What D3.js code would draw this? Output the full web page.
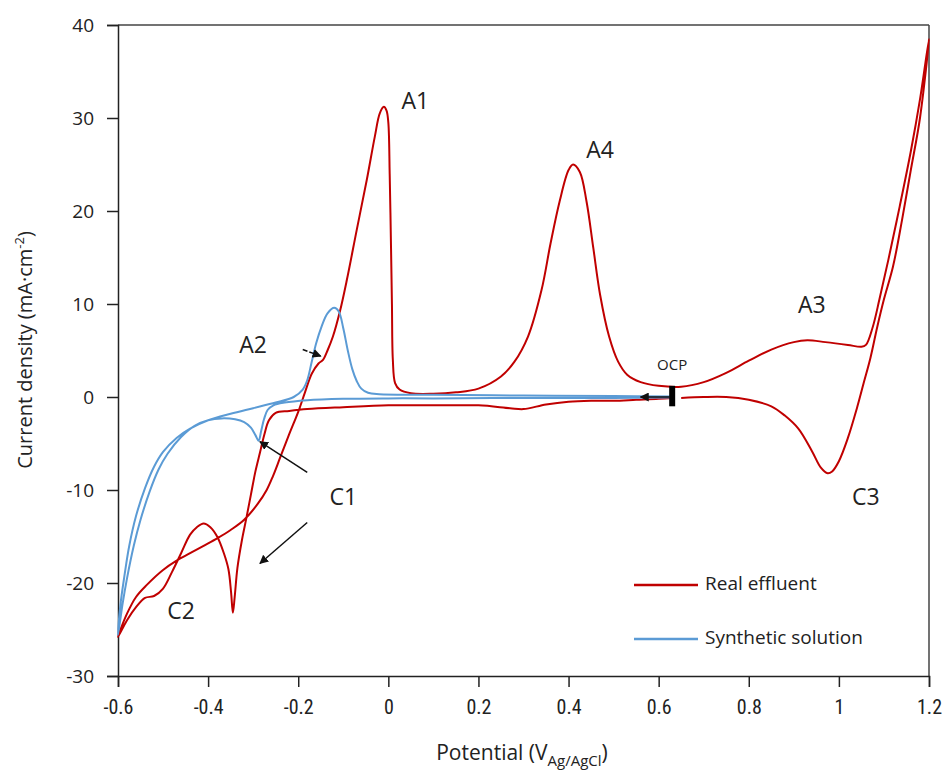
<!DOCTYPE html>
<html>
<head>
<meta charset="utf-8">
<script src="https://cdn.jsdelivr.net/npm/d3@7"></script>
<style>
  body { margin: 0; background: #fff; }
  text { font-family: "Open Sans", "Liberation Sans", sans-serif; fill: #222; }
</style>
</head>
<body>
<svg id="chart" width="950" height="781"></svg>
<script>
// potential (V) / current density (mA cm-2), in scan order starting at OCP
var realEffluent = [
  [0.63,-0.1],[0.6,-0.2],[0.55,-0.3],[0.5,-0.4],[0.45,-0.4],[0.4,-0.5],[0.35,-0.8],[0.3,-1.3],[0.27,-1.2],
  [0.2,-0.9],[0.1,-0.9],[0.0,-0.9],[-0.1,-1.1],[-0.18,-1.3],[-0.22,-1.5],[-0.25,-1.7],[-0.265,-2.5],
  [-0.275,-4],[-0.285,-6],[-0.295,-8],[-0.305,-10.5],[-0.315,-13],[-0.325,-15.4],[-0.335,-18.4],
  [-0.341,-21.5],[-0.345,-23.2],[-0.349,-21],[-0.355,-18.5],[-0.365,-16.8],[-0.38,-15],[-0.395,-14],
  [-0.41,-13.6],[-0.425,-14],[-0.44,-14.8],[-0.46,-16.8],[-0.48,-18.8],[-0.5,-20.6],[-0.52,-21.4],
  [-0.54,-21.6],[-0.56,-22.6],[-0.58,-24],[-0.6,-25.8],
  [-0.58,-23.3],[-0.56,-21.5],[-0.536,-20.2],[-0.5,-18.6],[-0.47,-17.6],[-0.44,-16.8],[-0.41,-16],
  [-0.38,-15.2],[-0.35,-14.3],[-0.32,-13.2],[-0.29,-11.5],[-0.27,-10],[-0.256,-8.5],[-0.24,-6.5],
  [-0.22,-4],[-0.2,-1.6],[-0.185,0.5],[-0.17,2.5],[-0.155,3.6],[-0.145,4],[-0.135,5],[-0.123,6.5],
  [-0.107,9.3],[-0.092,12.6],[-0.07,18],[-0.048,23.3],[-0.03,28],[-0.019,30.5],[-0.01,31.2],
  [-0.004,30.8],[0.0,29.5],[0.003,24],[0.006,16],[0.008,10],[0.01,4],[0.015,1.5],[0.025,0.8],
  [0.05,0.4],[0.1,0.35],[0.15,0.5],[0.2,0.9],[0.25,2.2],[0.28,3.8],[0.31,6.5],[0.34,11.5],
  [0.36,16.5],[0.38,21],[0.4,24.4],[0.41,25],[0.425,24.2],[0.44,21],[0.455,16],[0.47,11],
  [0.49,6.5],[0.51,3.8],[0.53,2.4],[0.56,1.6],[0.6,1.2],[0.65,1.1],[0.7,1.6],[0.75,2.6],
  [0.8,3.9],[0.85,5.1],[0.9,5.9],[0.93,6.1],[0.97,5.9],[1.02,5.6],[1.05,5.4],[1.06,5.6],
  [1.075,7.5],[1.09,10.5],[1.11,14.8],[1.135,20.5],[1.16,26.5],[1.18,32],[1.2,38.5],
  [1.18,30],[1.16,24.5],[1.14,19],[1.12,14],[1.1,10.5],[1.085,7.5],[1.07,4.2],[1.055,1.5],
  [1.04,-1.2],[1.02,-4.4],[1.0,-6.9],[0.985,-8.0],[0.975,-8.2],[0.96,-7.6],[0.94,-5.8],
  [0.91,-3.4],[0.88,-2.0],[0.85,-1.0],[0.8,-0.3],[0.75,0.0],[0.7,0.0],[0.65,-0.1]
];

var syntheticSolution = [
  [0.63,-0.05],[0.5,-0.1],[0.3,-0.1],[0.1,-0.15],[0.0,-0.15],[-0.1,-0.2],[-0.18,-0.35],[-0.23,-0.6],
  [-0.255,-0.9],[-0.268,-1.4],[-0.276,-2.4],[-0.282,-3.6],[-0.288,-4.7],[-0.295,-4.1],[-0.305,-3.3],
  [-0.32,-2.7],[-0.34,-2.4],[-0.37,-2.3],[-0.4,-2.5],[-0.43,-3.1],[-0.46,-4.3],[-0.49,-6.1],
  [-0.51,-7.8],[-0.53,-10.2],[-0.55,-13.2],[-0.565,-16],[-0.58,-19.5],[-0.59,-22.3],[-0.6,-25.6],
  [-0.595,-22.5],[-0.585,-19],[-0.575,-16],[-0.56,-12.8],[-0.54,-9.8],[-0.52,-7.5],[-0.5,-5.9],
  [-0.47,-4.4],[-0.44,-3.4],[-0.4,-2.5],[-0.35,-1.8],[-0.3,-1.2],[-0.25,-0.6],[-0.21,0],
  [-0.19,0.8],[-0.18,1.8],[-0.17,3.8],[-0.16,5.8],[-0.148,7.6],[-0.135,9],[-0.12,9.6],
  [-0.11,9.2],[-0.1,7.4],[-0.09,5],[-0.08,3],[-0.07,1.7],[-0.06,0.9],[-0.045,0.45],[-0.02,0.3],
  [0.1,0.25],[0.3,0.15],[0.5,0.1],[0.63,0.05]
];

var xTicks = [-0.6,-0.4,-0.2,0,0.2,0.4,0.6,0.8,1,1.2];
var yTicks = [-30,-20,-10,0,10,20,30,40];
var seriesNames = ["Real effluent","Synthetic solution"];
var seriesColors = ["#c00000","#5b9bd5"];

// peak labels: [text, potential, current]
var peakLabels = [
  ["A1",0.06,31.6],["A4",0.47,26.4],["A3",0.94,9.7],["A2",-0.3,5.4],
  ["C1",-0.1,-11.0],["C2",-0.46,-23.2],["C3",1.06,-11.0]
];
var ocp = 0.63;

var svg = d3.select("#chart");
var x = d3.scaleLinear().domain([-0.6,1.2]).range([118,929]);
var y = d3.scaleLinear().domain([-30,40]).range([676,25]);

// frame top/right
svg.append("line").attr("x1",118).attr("x2",929).attr("y1",25).attr("y2",25)
  .attr("stroke","#444").attr("stroke-width",1.5);
svg.append("line").attr("x1",929).attr("x2",929).attr("y1",25).attr("y2",676)
  .attr("stroke","#444").attr("stroke-width",1.5);

function plain(d){ return String(+(+d).toFixed(1)); }   // hyphen minus, like the original

var xAxis = svg.append("g").attr("transform","translate(0,676)")
  .call(d3.axisBottom(x).tickValues(xTicks).tickSize(11).tickFormat(plain));
var yAxis = svg.append("g").attr("transform","translate(118,0)")
  .call(d3.axisLeft(y).tickValues(yTicks).tickSize(11).tickFormat(plain));
[xAxis,yAxis].forEach(function(g){
  g.select(".domain").attr("stroke","#222").attr("stroke-width",1.5);
  g.selectAll(".tick line").attr("stroke","#222").attr("stroke-width",1.5);
  g.selectAll(".tick text").attr("font-size",19).attr("fill","#222")
    .style("font-family","'Open Sans', sans-serif");
});
xAxis.selectAll(".tick text").attr("dy","1.2em").style("font-family","'Liberation Sans Narrow','Roboto Condensed','Liberation Sans',sans-serif").attr("font-size",20);
yAxis.selectAll(".tick text").attr("x",-24);

var line = d3.line().x(function(d){ return x(d[0]); }).y(function(d){ return y(d[1]); })
  .curve(d3.curveCatmullRom.alpha(0.5));

svg.append("path").datum(realEffluent).attr("d",line)
  .attr("fill","none").attr("stroke",seriesColors[0]).attr("stroke-width",2);
svg.append("path").datum(syntheticSolution).attr("d",line)
  .attr("fill","none").attr("stroke",seriesColors[1]).attr("stroke-width",2);

// arrow markers
var defs = svg.append("defs");
defs.append("marker").attr("id","ah").attr("viewBox","0 0 10 10").attr("refX",9).attr("refY",5)
  .attr("markerWidth",6).attr("markerHeight",6).attr("orient","auto")
  .append("path").attr("d","M0,0L10,5L0,10z").attr("fill","#111");

function arrow(x1,y1,x2,y2,dash){
  svg.append("line").attr("x1",x(x1)).attr("y1",y(y1)).attr("x2",x(x2)).attr("y2",y(y2))
    .attr("stroke","#111").attr("stroke-width",1.5).attr("stroke-dasharray",dash||null)
    .attr("marker-end","url(#ah)");
}
arrow(-0.19,5.1,-0.15,4.4,"5,2");     // A2
arrow(-0.18,-8.1,-0.285,-4.8);        // C1 -> blue dip
arrow(-0.18,-13.5,-0.285,-17.9);      // C1 -> red

// OCP marker
svg.append("line").attr("x1",x(ocp)).attr("x2",x(ocp)).attr("y1",y(1.2)).attr("y2",y(-1.0))
  .attr("stroke","#000").attr("stroke-width",6);
arrow(ocp-0.005,0,ocp-0.07,0);
svg.append("text").attr("x",x(ocp)).attr("y",y(2.9)).attr("text-anchor","middle")
  .attr("font-size",15).text("OCP");

svg.selectAll("text.peak").data(peakLabels).enter().append("text").attr("class","peak")
  .attr("x",function(d){ return x(d[1]); }).attr("y",function(d){ return y(d[2]); })
  .attr("text-anchor","middle").attr("dominant-baseline","middle").attr("font-size",23)
  .text(function(d){ return d[0]; });

// legend
var leg = svg.append("g");
seriesNames.forEach(function(n,i){
  var ly = 585 + i*54;
  leg.append("line").attr("x1",634).attr("x2",698).attr("y1",ly).attr("y2",ly)
    .attr("stroke",seriesColors[i]).attr("stroke-width",2.5);
  leg.append("text").attr("x",705).attr("y",ly).attr("dominant-baseline","middle")
    .attr("font-size",19).text(n);
});

// axis titles
var xt = svg.append("text").attr("x",522).attr("y",760).attr("text-anchor","middle").attr("font-size",21);
xt.append("tspan").text("Potential (V");
xt.append("tspan").attr("font-size",15).attr("dy",6).text("Ag/AgCl");
xt.append("tspan").attr("dy",-6).text(")");

var yt = svg.append("text").attr("transform","translate(32,350) rotate(-90)")
  .attr("text-anchor","middle").attr("font-size",20);
yt.append("tspan").text("Current density (mA·cm");
yt.append("tspan").attr("font-size",13).attr("dy",-8).text("-2");
yt.append("tspan").attr("dy",8).text(")");
</script>
</body>
</html>
